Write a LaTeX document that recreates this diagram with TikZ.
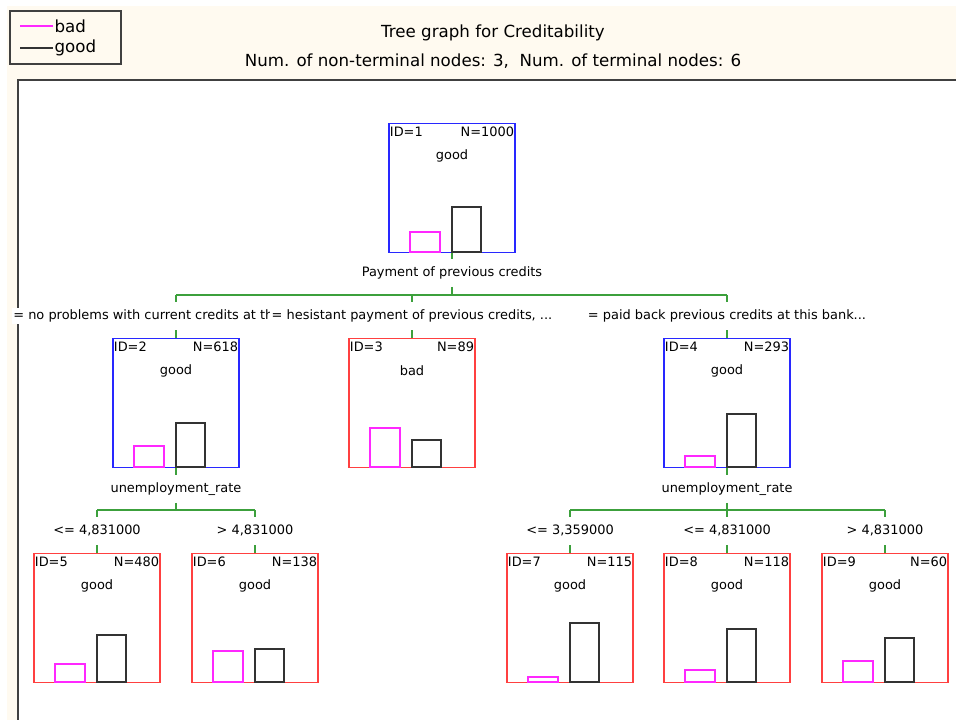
\documentclass[tikz,border=0pt]{standalone}
\usepackage{fontspec}
\setmainfont{DejaVu Sans}
\usepackage{xcolor}
\definecolor{cream}{RGB}{255,250,240}
\definecolor{boxblue}{RGB}{40,40,255}
\definecolor{boxred}{RGB}{255,64,64}
\definecolor{badpink}{RGB}{255,40,255}
\definecolor{linkgreen}{RGB}{60,160,60}
\definecolor{framegray}{RGB}{64,64,64}

\begin{document}
\begin{tikzpicture}[x=0.75pt, y=-0.75pt]
  \tikzstyle{every node}=[font=\fontsize{9.7}{11}\selectfont, inner sep=1pt]
  \tikzstyle{bigtext}=[font=\fontsize{12.5}{14}\selectfont]
  \tikzstyle{tnode}=[draw, line width=0.95pt, minimum width=94.5pt, minimum height=96.75pt]
  \tikzstyle{lab}=[text height=7.4pt, text depth=2.3pt, outer ysep=4.5pt]
  \tikzstyle{link}=[draw=linkgreen, line width=0.9pt]
  \tikzstyle{badbar}=[draw=badpink, line width=0.9pt]
  \tikzstyle{goodbar}=[draw=black!80, line width=0.9pt]
  \useasboundingbox (0,0) rectangle (956,720);
  \fill[cream] (7,6) rectangle (956,720);
  \fill[white] (18,80) rectangle (956,720);
  \draw[framegray, line width=1.5pt] (18,720) -- (18,80) -- (956,80);

  % legend
  \draw[framegray, line width=0.9pt] (10,11) rectangle (121,64);
  \node[bigtext, right] (legbad) at (53,26) {bad};
  \node[bigtext, right] (leggood) at (53,48) {good};
  \draw[badbar] (legbad.west) -- ++(-33,0);
  \draw[goodbar] (leggood.west) -- ++(-33,0);

  \node[bigtext] (title) at (493,33) {Tree graph for Creditability};
  \node[bigtext] (subtitle) at (493,61) {Num. of non-terminal nodes: 3,\ \ Num. of terminal nodes: 6};

  % tree nodes: id / x / top / N / class / colour / bad bar / good bar
  \foreach \id/\x/\y/\n/\cls/\col/\hb/\hg in {1/452/123/1000/good/boxblue/20/45,
      2/176/338/618/good/boxblue/21/44, 3/412/338/89/bad/boxred/39/27,
      4/727/338/293/good/boxblue/11/53, 5/97/553/480/good/boxred/18/47,
      6/255/553/138/good/boxred/31/33, 7/570/553/115/good/boxred/5/59,
      8/727/553/118/good/boxred/12/53, 9/885/553/60/good/boxred/21/44} {
    \node[tnode, draw=\col, anchor=north] (n\id) at (\x,\y) {};
    \node[anchor=north west, yshift=-1.5pt] at (n\id.north west) {ID=\id};
    \node[anchor=north east, yshift=-1.5pt] at (n\id.north east) {N=\n};
    \node at (\x,\y+33) {\cls};
    \draw[badbar] (\x-42,\y+129) rectangle ++(30,-\hb);
    \draw[goodbar] (\x,\y+129) rectangle ++(29,-\hg);
  }

  % split and branch labels
  \node[lab] (s1) at (452,273) {Payment of previous credits};
  \node[lab] (s2) at (176,489) {unemployment\_rate};
  \node[lab] (s4) at (727,489) {unemployment\_rate};
  \node[lab, anchor=east, fill=white] (e2) at (275,316) {= no problems with current credits at th};
  \node[lab, fill=white] (e3) at (412,316) {= hesistant payment of previous credits, ...};
  \node[lab] (e4) at (727,316) {= paid back previous credits at this bank...};
  \node[lab] (e5) at (97,531) {<= 4,831000};
  \node[lab] (e6) at (255,531) {> 4,831000};
  \node[lab] (e7) at (570,531) {<= 3,359000};
  \node[lab] (e8) at (727,531) {<= 4,831000};
  \node[lab] (e9) at (885,531) {> 4,831000};

  \coordinate (b1) at (452,295);
  \coordinate (b2) at (176,510);
  \coordinate (b4) at (727,510);
  \foreach \p in {1,2,4} {
    \draw[link] (n\p.south) -- (s\p.north);
    \draw[link] (s\p.south) -- (b\p);
  }
  \draw[link] (n2.north |- b1) -- (n4.north |- b1);
  \draw[link] (n5.north |- b2) -- (n6.north |- b2);
  \draw[link] (n7.north |- b4) -- (n9.north |- b4);
  \foreach \c/\p in {2/1,3/1,4/1,5/2,6/2,7/4,8/4,9/4} {
    \draw[link] (n\c.north |- b\p) -- (n\c.north |- e\c.north);
    \draw[link] (n\c.north) -- (n\c.north |- e\c.south);
  }
\end{tikzpicture}
\end{document}
